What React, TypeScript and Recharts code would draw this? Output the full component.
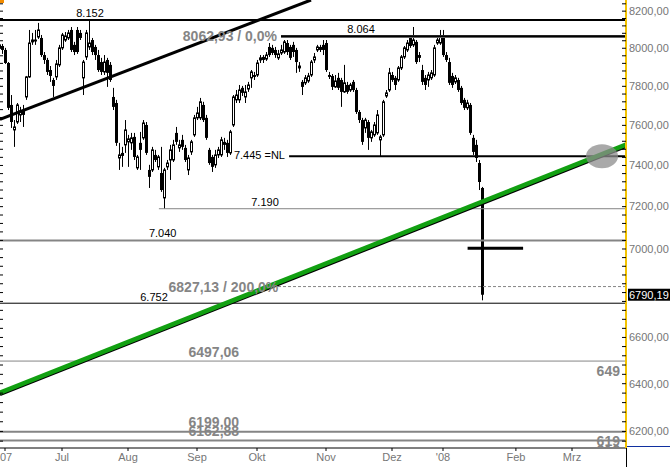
import React from 'react'
import { ComposedChart, Bar, XAxis, YAxis, ReferenceLine, ReferenceDot } from 'recharts'

// daily DAX candles, Jun 2007 .. 21 Jan 2008
const opens = [
  8002, 8012, 7991, 7922, 7704, 7577, 7617, 7653, 7678, 7745,
  7849, 8034, 8039, 8060, 8055, 7964, 7938, 7885, 7833, 7849,
  7912, 8002, 8044, 8055, 8098, 8018, 8098, 8082, 7844, 7954,
  8007, 8044, 8007, 7964, 7927, 7875, 7938, 7912, 7745, 7714,
  7437, 7462, 7502, 7517, 7512, 7542, 7388, 7512, 7537, 7602,
  7378, 7378, 7452, 7393, 7363, 7242, 7393, 7427, 7427, 7562,
  7487, 7527, 7487, 7378, 7467, 7552, 7638, 7638, 7704, 7638,
  7477, 7442, 7403, 7452, 7452, 7517, 7512, 7462, 7602, 7730,
  7730, 7792, 7745, 7786, 7844, 7859, 7859, 7938, 7954, 7943,
  8007, 8002, 7991, 7949, 7975, 7980, 8028, 8007, 8018, 7991,
  7896, 7823, 7818, 7828, 7859, 7938, 7991, 8007, 8018, 8028,
  7859, 7854, 7797, 7844, 7833, 7771, 7807, 7781, 7823, 7781,
  7668, 7627, 7587, 7617, 7537, 7552, 7562, 7527, 7552, 7750,
  7781, 7859, 7844, 7833, 7896, 7954, 7991, 8055, 8018, 8034,
  7964, 7885, 7844, 7833, 7844, 7859, 8028, 8028, 8055, 7964,
  7927, 7854, 7823, 7833, 7792, 7730, 7689, 7704, 7537, 7502,
  7412, 7290,
]
const highs = [
  8034, 8023, 8002, 7927, 7755, 7627, 7714, 7694, 7704, 7854,
  8098, 8082, 8098, 8136, 8071, 7980, 7949, 7906, 7844, 7938,
  8018, 8082, 8087, 8098, 8114, 8034, 8114, 8098, 7938, 8098,
  8152, 8055, 8018, 7991, 7949, 7964, 7949, 7927, 7792, 7730,
  7512, 7492, 7627, 7552, 7562, 7562, 7452, 7567, 7627, 7617,
  7403, 7492, 7477, 7452, 7492, 7388, 7427, 7502, 7527, 7592,
  7527, 7552, 7502, 7452, 7527, 7653, 7694, 7740, 7720, 7653,
  7487, 7452, 7477, 7492, 7542, 7537, 7527, 7577, 7755, 7781,
  7807, 7802, 7807, 7823, 7885, 7875, 7938, 7964, 7964, 7980,
  8028, 8018, 8007, 7991, 8018, 8044, 8044, 8018, 8034, 8002,
  7927, 7833, 7859, 7870, 7938, 7975, 8018, 8018, 8044, 8044,
  7875, 7864, 7859, 7870, 7844, 7912, 7823, 7818, 7833, 7792,
  7678, 7638, 7638, 7627, 7577, 7617, 7678, 7552, 7730, 7781,
  7896, 7875, 7854, 7906, 7964, 8012, 8044, 8071, 8114, 8044,
  7980, 7912, 7859, 7875, 7885, 8018, 8055, 8098, 8098, 7980,
  7949, 7870, 7859, 7844, 7802, 7740, 7730, 7714, 7552, 7527,
  7427, 7295,
]
const lows = [
  7980, 7970, 7917, 7678, 7587, 7492, 7607, 7617, 7592, 7730,
  7844, 8018, 8018, 8050, 7954, 7917, 7859, 7823, 7745, 7833,
  7901, 7991, 8034, 8044, 7980, 7964, 7970, 8044, 7755, 7938,
  7991, 7964, 7938, 7875, 7859, 7859, 7797, 7823, 7678, 7497,
  7378, 7393, 7462, 7393, 7477, 7427, 7378, 7378, 7527, 7452,
  7290, 7368, 7417, 7378, 7271, 7190, 7378, 7329, 7417, 7502,
  7467, 7477, 7417, 7353, 7452, 7542, 7627, 7627, 7617, 7527,
  7403, 7368, 7388, 7437, 7442, 7477, 7442, 7452, 7592, 7714,
  7714, 7750, 7714, 7771, 7792, 7833, 7849, 7922, 7922, 7933,
  7954, 7964, 7949, 7938, 7964, 7970, 7964, 7938, 7954, 7870,
  7875, 7755, 7807, 7818, 7849, 7922, 7980, 7980, 7964, 7875,
  7838, 7781, 7792, 7781, 7694, 7766, 7761, 7771, 7771, 7658,
  7612, 7502, 7562, 7477, 7517, 7542, 7552, 7445, 7542, 7740,
  7771, 7823, 7781, 7823, 7885, 7943, 7980, 8002, 8007, 7917,
  7927, 7807, 7781, 7797, 7833, 7849, 8018, 8018, 7954, 7927,
  7807, 7792, 7812, 7771, 7704, 7678, 7678, 7552, 7452, 7417,
  7280, 6765,
]
const closes = [
  8018, 7991, 7922, 7689, 7617, 7592, 7704, 7673, 7653, 7849,
  8028, 8044, 8044, 8098, 7964, 7938, 7875, 7854, 7802, 7917,
  8002, 8071, 8066, 8082, 7991, 7980, 7980, 8055, 7927, 8082,
  8028, 7980, 7964, 7885, 7875, 7927, 7870, 7833, 7694, 7512,
  7452, 7447, 7577, 7532, 7537, 7442, 7442, 7477, 7612, 7462,
  7344, 7477, 7427, 7442, 7280, 7378, 7412, 7477, 7502, 7517,
  7502, 7492, 7427, 7437, 7517, 7638, 7663, 7720, 7627, 7537,
  7412, 7393, 7452, 7477, 7527, 7502, 7462, 7567, 7745, 7755,
  7781, 7766, 7771, 7807, 7875, 7849, 7922, 7949, 7938, 7964,
  7964, 7975, 7964, 7970, 7991, 8034, 7980, 7949, 7980, 7927,
  7906, 7797, 7844, 7854, 7927, 7954, 8007, 7991, 7991, 7885,
  7849, 7797, 7828, 7792, 7771, 7818, 7771, 7807, 7781, 7668,
  7627, 7517, 7627, 7537, 7567, 7602, 7653, 7542, 7720, 7766,
  7870, 7833, 7807, 7896, 7954, 8002, 8028, 8012, 8044, 7927,
  7949, 7823, 7807, 7859, 7870, 8002, 8044, 8060, 7964, 7938,
  7818, 7807, 7844, 7781, 7714, 7689, 7714, 7562, 7467, 7437,
  7319, 6790.19,
]

// month ticks (trading-day index) and their labels
const monthTicks = [2, 21, 43, 66, 86, 109, 131, 148, 172.3, 191]
const monthLabels = ["'07", 'Jul', 'Aug', 'Sep', 'Okt', 'Nov', 'Dez', "'08", 'Feb', 'Mrz']

const priceLabels = [6200, 6400, 6600, 7000, 7200, 7400, 7600, 7800, 8000, 8200]
const lastClose = 6790.19

const data = opens.map((o, i) => ({
  i,
  o,
  h: highs[i],
  l: lows[i],
  c: closes[i],
  range: [lows[i], highs[i]],
}))

const minorTicks: number[] = []
for (let v = 6160; v <= 8240; v += 40) minorTicks.push(v)

const PLOT_W = 626
const PLOT_H = 448
const FONT = '"Liberation Sans", Arial, sans-serif'
const GRAY = '#858585'
const AXIS_TXT = '#767676'

function Candle(props: any) {
  const { x, y, width, height, payload } = props
  if (!payload || height == null) return null
  const { o, h, l, c } = payload
  const span = Math.log(h) - Math.log(l)
  const py = (v: number) => (span > 0 ? y + (height * (Math.log(h) - Math.log(v))) / span : y)
  const cx = Math.round(x + width / 2)
  const yo = py(o)
  const yc = py(c)
  const top = Math.min(yo, yc)
  const bh = Math.max(Math.abs(yc - yo), 1)
  return (
    <g>
      <line x1={cx + 0.5} x2={cx + 0.5} y1={y} y2={y + height} stroke="#000" strokeWidth={1} />
      {c >= o ? (
        <rect x={cx - 0.5} y={top} width={2} height={bh} fill="#fff" stroke="#000" strokeWidth={1} />
      ) : (
        <rect x={cx - 1} y={top} width={3} height={bh} fill="#000" />
      )}
    </g>
  )
}

function PriceTick(props: any) {
  const { y, payload } = props
  const v = payload.value
  return (
    <g>
      <line x1={PLOT_W - 4} x2={PLOT_W} y1={y} y2={y} stroke="#000" strokeWidth={1} />
      <line x1={0} x2={3} y1={y} y2={y} stroke="#000" strokeWidth={1} />
      {priceLabels.includes(v) && (
        <text x={PLOT_W + 3} y={y} dy="0.35em" fill={AXIS_TXT} fontSize={11} fontFamily={FONT}>
          {v.toFixed(2).replace('.', ',')}
        </text>
      )}
    </g>
  )
}

const label =
  (text: string, dx: number, dy: number, anchor: string, bold = false, clip = false) =>
  (p: any) => {
    const id = `clip-${text.replace(/\W/g, '')}-${dy}`
    return (
      <g>
        {clip && (
          <defs>
            <clipPath id={id}>
              <rect x={0} y={0} width={PLOT_W - 6} height={PLOT_H - 1} />
            </clipPath>
          </defs>
        )}
        <text
          x={p.cx + dx}
          y={p.cy + dy}
          textAnchor={anchor}
          fontFamily={FONT}
          fontSize={bold ? 14 : 11}
          fontWeight={bold ? 'bold' : 'normal'}
          fill={bold ? GRAY : '#000'}
          clipPath={clip ? `url(#${id})` : undefined}
        >
          {text}
        </text>
      </g>
    )
  }

const TrendShape = (p: any) => (
  <g>
    <line x1={p.x1} y1={p.y1 + 2} x2={p.x2} y2={p.y2 + 2} stroke="#000" strokeWidth={3} />
    <line x1={p.x1} y1={p.y1} x2={p.x2} y2={p.y2} stroke="#12A012" strokeWidth={4.5} />
  </g>
)

export default function App() {
  return (
    <div style={{ position: 'absolute', left: 0, top: 0, width: 670, height: 467, background: '#fff' }}>
      <ComposedChart width={670} height={467} data={data} margin={{ top: 0, right: 0, bottom: 0, left: 0 }}>
        <XAxis
          dataKey="i"
          type="number"
          domain={[0.333, 209]}
          allowDataOverflow
          ticks={monthTicks}
          interval={0}
          tickFormatter={(v: number) => monthLabels[monthTicks.indexOf(v)]}
          tick={{ fill: AXIS_TXT, fontSize: 11, fontFamily: FONT }}
          tickSize={3}
          tickLine={{ stroke: '#000' }}
          axisLine={{ stroke: '#000' }}
          height={19}
        />
        <YAxis
          orientation="right"
          type="number"
          scale="log"
          domain={[6132, 8261]}
          allowDataOverflow
          ticks={minorTicks}
          interval={0}
          tick={(p: any) => <PriceTick {...p} />}
          tickLine={false}
          axisLine={{ stroke: '#F2C200', strokeWidth: 2 }}
          width={44}
        />

        {/* horizontal levels */}
        <ReferenceLine y={8152} stroke="#000" strokeWidth={2} />
        <ReferenceLine segment={[{ x: 94, y: 8062.93 }, { x: 209, y: 8062.93 }]} stroke={GRAY} strokeWidth={3} />
        <ReferenceLine segment={[{ x: 94, y: 8064 }, { x: 209, y: 8064 }]} stroke="#000" strokeWidth={2} />
        <ReferenceLine segment={[{ x: 96.7, y: 7445 }, { x: 209, y: 7445 }]} stroke="#000" strokeWidth={2} />
        <ReferenceLine segment={[{ x: 53.3, y: 7190 }, { x: 209, y: 7190 }]} stroke={GRAY} strokeWidth={1} />
        <ReferenceLine y={7040} stroke={GRAY} strokeWidth={2} />
        <ReferenceLine
          segment={[{ x: 93, y: 6827.13 }, { x: 209, y: 6827.13 }]}
          stroke={GRAY}
          strokeWidth={1}
          strokeDasharray="3 2"
        />
        <ReferenceLine y={6752} stroke="#000" strokeWidth={1} />
        <ReferenceLine y={6497.06} stroke={GRAY} strokeWidth={1} />
        <ReferenceLine y={6199} stroke={GRAY} strokeWidth={2} />
        <ReferenceLine y={6162.88} stroke={GRAY} strokeWidth={2} />

        {/* level labels */}
        <ReferenceDot x={30.33} y={8152} r={0} shape={label('8.152', 0, -3, 'middle')} />
        <ReferenceDot x={120.67} y={8064} r={0} shape={label('8.064', 0, -3, 'middle')} />
        <ReferenceDot x={92.67} y={8062.93} r={0} shape={label('8062,93 / 0,0%', 0, 5, 'end', true)} />
        <ReferenceDot x={95.33} y={7445} r={0} shape={label('7.445 =NL', 0, 3, 'end')} />
        <ReferenceDot x={88.67} y={7190} r={0} shape={label('7.190', 0, -3, 'middle')} />
        <ReferenceDot x={54.56} y={7040} r={0} shape={label('7.040', 0, -3, 'middle')} />
        <ReferenceDot x={93.1} y={6827.13} r={0} shape={label('6827,13 / 200,0%', 0, 5, 'end', true)} />
        <ReferenceDot x={51.67} y={6752} r={0} shape={label('6.752', 0, -2, 'middle')} />
        <ReferenceDot x={71.6} y={6497.06} r={0} shape={label('6497,06', 0, -4, 'middle', true)} />
        <ReferenceDot x={199.2} y={6497.06} r={0} shape={label('6497,06', 0, 14.6, 'start', true, true)} />
        <ReferenceDot x={71.6} y={6162.88} r={0} shape={label('6162,88', 0, -4, 'middle', true)} />
        <ReferenceDot x={71.6} y={6199} r={0} shape={label('6199,00', 0, -4.3, 'middle', true)} />
        <ReferenceDot x={199.2} y={6199} r={0} shape={label('6199,00', 0, 14.6, 'start', true, true)} />
        <ReferenceDot x={199.2} y={6162.88} r={0} shape={label('6162,88', 0, 14.6, 'start', true, true)} />

        {/* trend lines */}
        <ReferenceLine
          segment={[{ x: 0.333, y: 7630 }, { x: 104, y: 8261 }]}
          stroke="#000"
          strokeWidth={3}
          ifOverflow="hidden"
        />
        <ReferenceLine
          segment={[{ x: 0.333, y: 6362 }, { x: 209, y: 7503 }]}
          shape={TrendShape}
          ifOverflow="hidden"
        />

        <Bar dataKey="range" barSize={3} isAnimationActive={false} shape={(p: any) => <Candle {...p} />} />

        {/* marker on the last candle */}
        <ReferenceLine segment={[{ x: 156.2, y: 7004 }, { x: 174.7, y: 7004 }]} stroke="#000" strokeWidth={3} />
        <ReferenceDot
          x={201}
          y={7445}
          r={0}
          shape={(p: any) => <ellipse cx={p.cx} cy={p.cy} rx={16} ry={12} fill="#8c8c8c" fillOpacity={0.75} />}
        />
        <ReferenceDot
          x={209}
          y={lastClose}
          r={0}
          ifOverflow="visible"
          shape={(p: any) => (
            <g>
              <rect x={p.cx + 2} y={p.cy - 6} width={42} height={12} fill="#000" />
              <text x={p.cx + 3} y={p.cy} dy="0.35em" fill="#fff" fontSize={11} fontFamily={FONT}>
                {lastClose.toFixed(2).replace('.', ',')}
              </text>
            </g>
          )}
        />
      </ComposedChart>
      <div style={{ position: 'absolute', left: 0, top: 0, width: 4, height: 3, background: '#F28C00' }} />
      <div style={{ position: 'absolute', left: 627, top: 446, width: 43, height: 1, background: '#1030A0' }} />
      <div style={{ position: 'absolute', left: 626, top: 448, width: 1, height: 19, background: '#000' }} />
    </div>
  )
}
